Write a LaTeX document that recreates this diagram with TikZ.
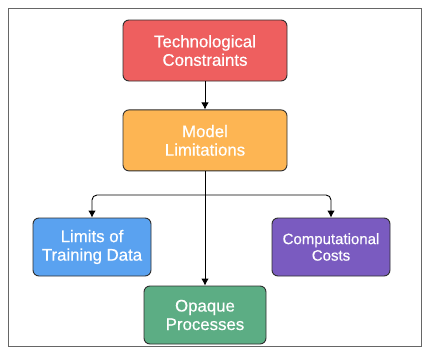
\documentclass[tikz,border=0pt]{standalone}
\usepackage{fontspec}
\setmainfont{Liberation Sans}[FakeBold=0.5]
\usetikzlibrary{positioning,arrows.meta}
\definecolor{techred}{HTML}{EE5F5F}
\definecolor{modelorange}{HTML}{FDB553}
\definecolor{datablue}{HTML}{5AA2F0}
\definecolor{costpurple}{HTML}{7A5BC0}
\definecolor{opaquegreen}{HTML}{5CAD84}
\definecolor{edgegray}{HTML}{2E2E2E}
\tikzset{
  box/.style={draw=edgegray,line width=0.9pt,rounded corners=6pt,text=white,align=center,
    font=\fontsize{16.8}{18.5}\selectfont,inner sep=0pt},
  link/.style={->,line width=0.9pt,black}
}

\begin{document}
\begin{tikzpicture}[x=1pt,y=-1pt,>={Latex[length=7pt,width=7.5pt]}]
  \useasboundingbox (0,0) rectangle (424,356);
  \draw[line width=0.9pt,gray!80!black] (8,8) rectangle (421,346);
  \node[box,fill=techred,minimum width=164pt,minimum height=61pt] (tech) at (205,50.5) {Technological\\Constraints};
  \node[box,fill=modelorange,below=28pt of tech,minimum width=164pt,minimum height=61pt] (model) {Model\\Limitations};
  \node[box,fill=datablue,minimum width=118pt,minimum height=58pt] (data) at (92,247) {Limits of\\Training Data};
  \node[box,fill=costpurple,minimum width=118pt,minimum height=58pt,font=\fontsize{15}{16.5}\selectfont] (costs) at (331,247) {Computational\\Costs};
  \node[box,fill=opaquegreen,minimum width=122pt,minimum height=58pt] (opaque) at (205,315) {Opaque\\Processes};
  \coordinate (split) at (205,195);
  \draw[link] (tech) -- (model);
  \draw[link] (model) -- (opaque);
  \draw[link,rounded corners=5pt] (split) -| (data);
  \draw[link,rounded corners=5pt] (split) -| (costs);
\end{tikzpicture}
\end{document}
